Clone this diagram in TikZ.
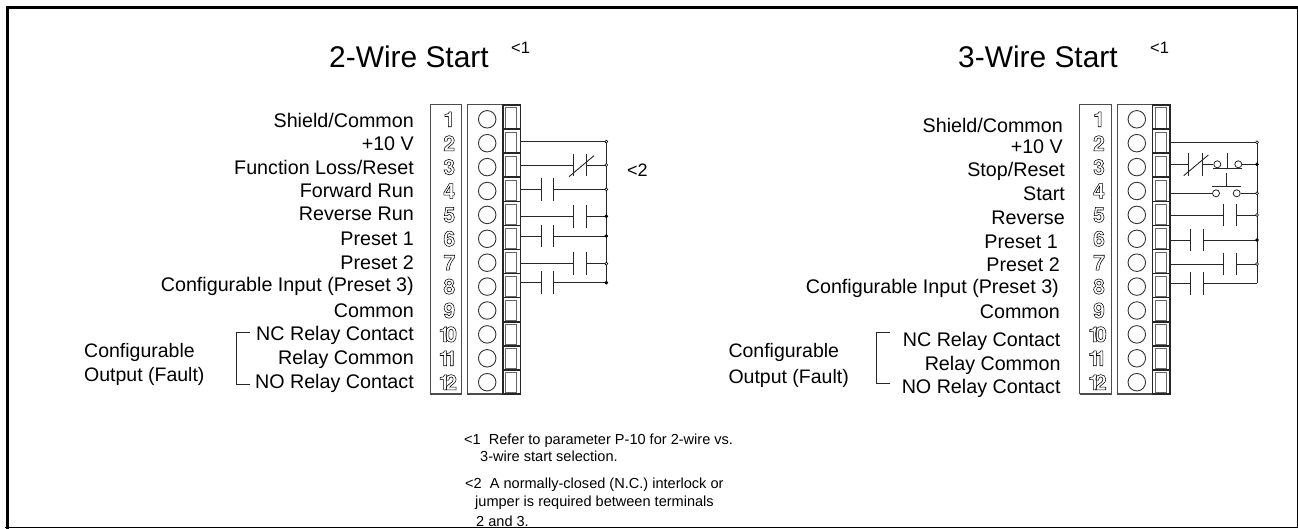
\documentclass[tikz,border=0pt]{standalone}
\usepackage{fontspec}
\setmainfont{Liberation Sans}
\newfontfamily\numfont{TeX Gyre Heros}
\newcommand{\fs}[1]{\fontsize{#1}{#1}\selectfont}
\newcommand{\outl}[1]{\special{pdf:code q 1 Tr 0.55 w}#1\special{pdf:code Q}}
\newcommand{\termnum}[1]{\ifnum#1>9 \outl{1\kern-5pt\the\numexpr#1-10\relax}\else\outl{#1}\fi}
\tikzset{
 x=1pt,y=-1pt,
 lbl/.style={anchor=east,inner sep=0pt,font=\fs{19.7}},
 lft/.style={anchor=west,inner sep=0pt,font=\fs{19.5}},
 title/.style={anchor=west,inner sep=0pt,font=\fs{29.9}},
 sup1/.style={anchor=west,inner sep=0pt,font=\fs{16.5}},
 note/.style={anchor=west,inner sep=0pt,font=\fs{14.55}},
 num/.style={anchor=center,inner sep=0pt,font=\fs{21}\numfont\bfseries},
 wire/.style={line width=0.9pt,draw=black!85},
 plate/.style={line width=1pt,draw=black!85},
 boxl/.style={line width=1pt,draw=black!70},
 cell/.style={line width=1.6pt,draw=black!85},
 cellin/.style={line width=1pt,draw=black!60},
 opend/.style={circle,draw=black,fill=white,line width=0.6pt,inner sep=0pt,minimum size=3pt},
 filld/.style={circle,draw=black,fill=black,line width=0.6pt,inner sep=0pt,minimum size=3pt},
 smallc/.style={circle,draw=black!85,line width=0.8pt,inner sep=0pt,minimum size=7pt},
}
\newcommand{\block}[6]{%
 % #1 prefix, #2 box left, #3 box right, #4 strip left, #5 cell left, #6 strip right
 \draw[boxl] (#2,394) |- (#3,105) -- (#3,394);
 \draw[boxl,line width=1.2pt] (#2,394) -- (#3,394);
 \draw[boxl] (#4,394) |- (#6,105);
 \draw[boxl,line width=1.2pt] (#4,394) -- (#6,394);
 \foreach \i in {1,...,12}{
  \pgfmathsetmacro{\ty}{105+(\i-1)*24.08}
  \pgfmathsetmacro{\by}{\ty+24.08}
  \pgfmathsetmacro{\cy}{119.3+(\i-1)*23.9}
  \pgfmathsetmacro{\nx}{(#2)+19.3-(\i>9)*1.5}
  \draw[cell] (#5,\ty) rectangle (#6,\by);
  \draw[cellin] (#5+3.2,\ty+3) rectangle (#6-3.4,\by-1);
  \node[circle,draw=black!80,line width=0.9pt,inner sep=0pt,minimum size=17.5pt] (#1c\i) at (#5-15.5,\cy) {};
  \node[num] (#1n\i) at (\nx,\cy) {\termnum{\i}};
 }}
% contact: #1 left plate x, #2 right plate x, #3 y, #4 name prefix, start, end
\newcommand{\contact}[6]{%
 \coordinate (#4a) at (#1,#3); \coordinate (#4b) at (#2,#3);
 \draw[wire] (#5) -- (#4a); \draw[wire] (#4b) -- (#6);
 \draw[plate] (#1,#3-11.3) -- (#1,#3+11.3);
 \draw[plate] (#2,#3-11.3) -- (#2,#3+11.3);}
\begin{document}
\begin{tikzpicture}
\useasboundingbox (0,0) rectangle (1298,529);
% frame
\coordinate (fbl) at (7.5,529);\coordinate (ftl) at (7.5,7.5);\coordinate (ftr) at (1297.5,7.5);\coordinate (fbr) at (1297.5,527.5);
\draw[line width=3pt,line cap=rect] (fbl) -- (ftl) -- (ftr);
\draw[line width=1.5pt] (ftr) -- (fbr) -- (5,527.5);
% titles
\node[title] (t2) at (329,57) {2-Wire Start};
\node[sup1] (t2s) at (511,48) {<1};
\node[title] (t3) at (958,57) {3-Wire Start};
\node[sup1] (t3s) at (1150,48) {<1};
\node[anchor=west,inner sep=0pt,font=\fs{18}] (m2) at (627,170) {<2};
% left labels
\node[lbl] (l1) at (414,120) {Shield/Common};
\node[lbl] (l2) at (414,144) {+10 V};
\node[lbl] (l3) at (414,167) {Function Loss/Reset};
\node[lbl] (l4) at (414,190.5) {Forward Run};
\node[lbl] (l5) at (414,214) {Reverse Run};
\node[lbl] (l6) at (414,238.5) {Preset 1};
\node[lbl] (l7) at (414,263) {Preset 2};
\node[lbl] (l8) at (414,286.5) {Configurable Input (Preset 3)};
\node[lbl] (l9) at (414,311) {Common};
\node[lbl] (l10) at (414,335.5) {NC Relay Contact};
\node[lbl] (l11) at (414,359) {Relay Common};
\node[lbl] (l12) at (414,383) {NO Relay Contact};
\node[lft] (co) at (84,352) {Configurable};
\node[lft] (ou) at (84,376) {Output (Fault)};
\coordinate (b1) at (250,332.5);\coordinate (b2) at (236.7,332.5);\coordinate (b3) at (236.7,384);\coordinate (b4) at (250,384);
\draw[wire] (b1) -- (b2) -- (b3) -- (b4);
% right labels
\node[lbl] (r1) at (1063,125) {Shield/Common};
\node[lbl] (r2) at (1063,147) {+10 V};
\node[lbl] (r3) at (1065,171) {Stop/Reset};
\node[lbl] (r4) at (1065,194) {Start};
\node[lbl] (r5) at (1065,217.5) {Reverse};
\node[lbl] (r6) at (1058,241.5) {Preset 1};
\node[lbl] (r7) at (1060,265) {Preset 2};
\node[lbl] (r8) at (1059,288.5) {Configurable Input (Preset 3)};
\node[lbl] (r9) at (1060,312) {Common};
\node[lbl] (r10) at (1060.7,341) {NC Relay Contact};
\node[lbl] (r11) at (1060.7,365.7) {Relay Common};
\node[lbl] (r12) at (1060.7,388.5) {NO Relay Contact};
\node[lft] (rco) at (728.3,352) {Configurable};
\node[lft] (rou) at (728.3,378) {Output (Fault)};
\coordinate (c1) at (890,332.5);\coordinate (c2) at (876,332.5);\coordinate (c3) at (876,383.5);\coordinate (c4) at (890,383.5);
\draw[wire] (c1) -- (c2) -- (c3) -- (c4);
% terminal blocks
\block{L}{430}{461.7}{467}{502.7}{520.3}
\block{R}{1079.7}{1111.7}{1117.3}{1152.3}{1170}
% left wiring
\foreach \n/\y in {2/141.7,3/165,4/189.3,5/216.3,6/236,7/263.7,8/282.7}{
 \coordinate (Ls\n) at (520.3,\y); \coordinate (Lb\n) at (606.3,\y);}
\draw[wire] (Lb2) -- (Lb8);
\draw[wire] (Ls2) -- (Lb2);
\contact{573.3}{586.3}{165}{Lk3}{Ls3}{Lb3}
\coordinate (Ls1a) at (569,176.7);\coordinate (Ls1b) at (594,155.7);
\draw[wire] (Ls1a) -- (Ls1b);
\contact{541.3}{553.7}{189.3}{Lk4}{Ls4}{Lb4}
\contact{573.3}{586.3}{216.3}{Lk5}{Ls5}{Lb5}
\contact{541.3}{553.7}{236}{Lk6}{Ls6}{Lb6}
\contact{573.3}{586.3}{263.7}{Lk7}{Ls7}{Lb7}
\contact{541.3}{553.7}{282.7}{Lk8}{Ls8}{Lb8}
\foreach \n in {2,3,4,7}{\node[opend] (Ld\n) at (Lb\n) {};}
\foreach \n in {5,6,8}{\node[filld] (Ld\n) at (Lb\n) {};}
% right wiring
\foreach \n/\y in {2/142.3,3/164.3,4/193.3,5/215,6/240,7/264,8/283.3}{
 \coordinate (Rs\n) at (1170,\y); \coordinate (Rb\n) at (1257,\y);}
\draw[wire] (Rb2) -- (Rb8);
\draw[wire] (Rs2) -- (Rb2);
\node[smallc] (p3a) at (1217.3,164.3) {};
\node[smallc] (p3b) at (1238.3,164.3) {};
\contact{1188.7}{1202.3}{164.3}{Rk3}{Rs3}{p3a}
\coordinate (Rs1a) at (1183.7,175.7);\coordinate (Rs1b) at (1208.3,155);
\draw[wire] (Rs1a) -- (Rs1b);
\draw[wire] (p3b) -- (Rb3);
\coordinate (q1) at (1213.3,168.3);\coordinate (q2) at (1242.3,168.3);\coordinate (q3) at (1227.3,168.3);\coordinate (q4) at (1227.3,153.3);
\draw[plate] (q1) -- (q2); \draw[plate] (q3) -- (q4);
\node[smallc] (p4a) at (1216,193.3) {};
\node[smallc] (p4b) at (1236.7,193.3) {};
\draw[wire] (Rs4) -- (p4a); \draw[wire] (p4b) -- (Rb4);
\coordinate (s1) at (1212.3,186.7);\coordinate (s2) at (1240.7,186.7);\coordinate (s3) at (1226.7,186.7);\coordinate (s4) at (1226.7,173.3);
\draw[plate] (s1) -- (s2); \draw[plate] (s3) -- (s4);
\contact{1223.3}{1236}{215}{Rk5}{Rs5}{Rb5}
\contact{1190.7}{1203.7}{240}{Rk6}{Rs6}{Rb6}
\contact{1223.3}{1236}{264}{Rk7}{Rs7}{Rb7}
\contact{1190.7}{1203.7}{283.3}{Rk8}{Rs8}{Rb8}
\foreach \n in {2,4,5,7}{\node[opend] (Rd\n) at (Rb\n) {};}
\foreach \n in {3,6}{\node[filld] (Rd\n) at (Rb\n) {};}
% notes
\node[note] (n1) at (464,440.7) {<1\hspace{4pt} Refer to parameter P-10 for 2-wire vs.};
\node[note] (n2) at (480,456.7) {3-wire start selection.};
\node[note] (n3) at (465,485) {<2\hspace{4pt} A normally-closed (N.C.) interlock or};
\node[note] (n4) at (475,503) {jumper is required between terminals};
\node[note] (n5) at (476,521) {2 and 3.};
\end{tikzpicture}
\end{document}
